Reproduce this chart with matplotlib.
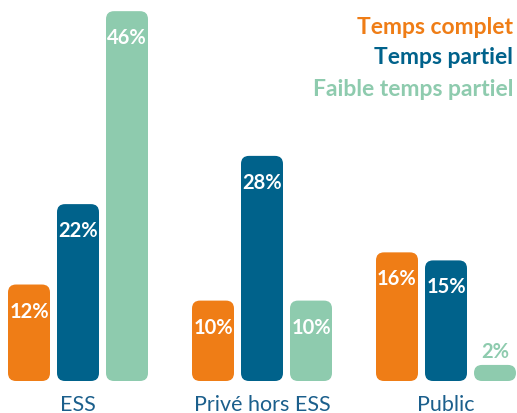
import matplotlib.pyplot as plt
from matplotlib.patches import FancyBboxPatch

plt.rcParams['font.family'] = ['Lato', 'DejaVu Sans']

categories = ["ESS", "Privé hors ESS", "Public"]
series = ["Temps complet", "Temps partiel", "Faible temps partiel"]
values = [
    [12, 10, 16],   # Temps complet
    [22, 28, 15],   # Temps partiel
    [46, 10, 2],    # Faible temps partiel
]
colors = ["#EF7D16", "#00628B", "#8ECBAE"]

W, H = 517, 414
fig = plt.figure(figsize=(W / 100, H / 100), dpi=100)
ax = fig.add_axes([0, 0, 1, 1])

px_x = 184.0        # pixels per category unit
px_y = 8.04         # pixels per percent
x0_px, base_px = 78, 382
ax.set_xlim(-x0_px / px_x, (W - x0_px) / px_x)
ax.set_ylim(-(H - base_px) / px_y, base_px / px_y)
ax.axis("off")

bar_w = 42 / px_x
pitch = 49 / px_x
aspect = px_x / px_y
rad = 8 / px_x

for i, (name, vals, col) in enumerate(zip(series, values, colors)):
    for j, v in enumerate(vals):
        xc = j + (i - 1) * pitch
        r = min(rad, v / aspect / 2)
        p = FancyBboxPatch((xc - bar_w / 2, 0), bar_w, v,
                           boxstyle=f"round,pad=0,rounding_size={r}",
                           mutation_aspect=aspect, fc=col, ec="none")
        ax.add_patch(p)
        if v >= 5:
            ax.text(xc, v - 26 / px_y, f"{v}%", ha="center", va="center",
                    color="white", fontsize=14.5, fontweight="bold")
        else:
            ax.text(xc, v + 14 / px_y, f"{v}%", ha="center", va="center",
                    color=col, fontsize=14.5, fontweight="bold")

for j, c in enumerate(categories):
    ax.text(j, -23 / px_y, c, ha="center", va="center",
            color="#1B5F8C", fontsize=15.5)

leg_y = [27, 57, 89]
for name, col, yy in zip(series, colors, leg_y):
    ax.text((513 - x0_px) / px_x, (base_px - yy) / px_y, name,
            ha="right", va="center", color=col, fontsize=16.5, fontweight="bold")

fig.savefig("out.png", dpi=100)
